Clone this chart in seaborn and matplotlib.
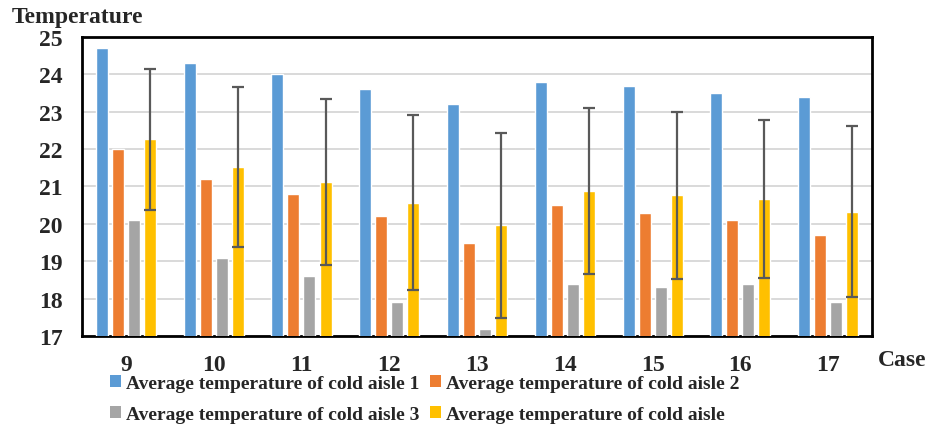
import numpy as np
import pandas as pd
import matplotlib
matplotlib.use("Agg")
import matplotlib.pyplot as plt
from matplotlib.patches import Patch
import seaborn as sb

### Data

cases = ["9", "10", "11", "12", "13", "14", "15", "16", "17"]
series_names = ["Average temperature of cold aisle 1",
                "Average temperature of cold aisle 2",
                "Average temperature of cold aisle 3",
                "Average temperature of cold aisle"]
aisle1 = [24.7, 24.3, 24.0, 23.6, 23.2, 23.8, 23.7, 23.5, 23.4]
aisle2 = [22.0, 21.2, 20.8, 20.2, 19.5, 20.5, 20.3, 20.1, 19.7]
aisle3 = [20.1, 19.1, 18.6, 17.9, 17.2, 18.4, 18.3, 18.4, 17.9]
aisle_avg = [22.26, 21.52, 21.12, 20.56, 19.96, 20.89, 20.76, 20.66, 20.32]
aisle_err = [1.89, 2.13, 2.22, 2.34, 2.47, 2.22, 2.23, 2.12, 2.29]
colors = ["#5B9BD5", "#ED7D31", "#A5A5A5", "#FFC000"]

df = pd.DataFrame({
    "Case": cases * 4,
    "Temperature": aisle1 + aisle2 + aisle3 + aisle_avg,
    "Series": np.repeat(series_names, len(cases)),
})

### Plot

sb.set_style("white")
plt.rcParams["font.family"] = ["Liberation Serif", "DejaVu Serif"]
plt.rcParams["font.weight"] = "bold"

fig = plt.figure(figsize=(9.28, 4.27), dpi=100)
ax = fig.add_axes([0.0884, 0.2108, 0.8513, 0.7002])

sb.barplot(data=df, x="Case", y="Temperature", hue="Series", palette=colors,
           width=0.73, gap=0.25, saturation=1, legend=False, ax=ax, zorder=3)

# error bars on the overall average, centred on its bars
bars = ax.containers[3]
xs = [b.get_x() + b.get_width() / 2 for b in bars]
ax.errorbar(xs, aisle_avg, yerr=aisle_err, fmt="none", ecolor="#595959",
            elinewidth=1.6, capsize=4.3, capthick=1.6, zorder=4)

ax.set_ylim(17, 25)
ax.set_yticks(range(17, 26))
ax.set_xlim(-0.5, len(cases) - 0.5)
ax.yaxis.grid(True, color="#D9D9D9", linewidth=1.4, zorder=0)
ax.set_axisbelow(True)
for s in ax.spines.values():
    s.set_color("black")
    s.set_linewidth(2)
ax.tick_params(axis="y", length=0, pad=14, labelsize=17)
ax.tick_params(axis="x", length=0, pad=13, labelsize=17)
for lbl in ax.get_xticklabels() + ax.get_yticklabels():
    lbl.set_fontweight("bold")
ax.set_xlabel("")
ax.set_ylabel("")

fig.text(0.013, 0.958, "Temperature", fontsize=17, fontweight="bold", va="center")
fig.text(0.946, 0.155, "Case", fontsize=17, fontweight="bold", va="center")

# legend fills column-first, so reorder to read row by row
order = [0, 2, 1, 3]
handles = [Patch(facecolor=colors[i], edgecolor="none") for i in order]
labels = [series_names[i] for i in order]
fig.legend(handles, labels, loc="upper left", bbox_to_anchor=(0.118, 0.12),
           ncol=2, frameon=False, prop={"weight": "bold", "size": 14},
           handlelength=0.57, handleheight=0.57, handletextpad=0.3,
           columnspacing=0.5, labelspacing=0.72, borderpad=0, borderaxespad=0)

plt.savefig("out.png", dpi=100)
